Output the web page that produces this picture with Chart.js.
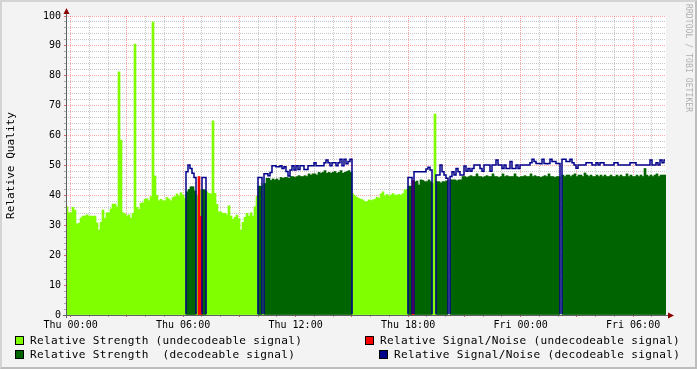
<!DOCTYPE html>
<html><head><meta charset="utf-8">
<script src="https://cdn.jsdelivr.net/npm/chart.js@4.4.1/dist/chart.umd.min.js"></script>
<style>
html,body{margin:0;padding:0;background:#F3F3F3;}
#wrap{position:relative;width:697px;height:369px;background:#F3F3F3;overflow:hidden;font-family:"DejaVu Sans Mono",monospace;}
#c{position:absolute;left:0;top:0;width:697px;height:369px;}
.frame{position:absolute;left:0;top:0;width:697px;height:369px;box-sizing:border-box;border-style:solid;border-width:2px;border-color:#D4D4D4 #BDBDBD #BDBDBD #D4D4D4;pointer-events:none;}
.sw{position:absolute;width:9px;height:9px;box-sizing:border-box;border:1px solid #000;}
.lt{position:absolute;font-size:11.1px;line-height:12px;letter-spacing:0.3px;white-space:pre;color:#000;}
.wm{position:absolute;left:684px;top:4px;writing-mode:vertical-rl;font-size:8px;letter-spacing:0.1px;color:#AFAFAF;white-space:pre;}
</style></head>
<body>
<div id="wrap">
<canvas id="c" width="697" height="369"></canvas>
<div class="sw" style="left:15px;top:336px;background:#7FFF00"></div>
<div class="lt" style="left:30px;top:335px">Relative Strength (undecodeable signal)</div>
<div class="sw" style="left:15px;top:350px;background:#006400"></div>
<div class="lt" style="left:30px;top:349px">Relative Strength  (decodeable signal)</div>
<div class="sw" style="left:365px;top:336px;background:#FF0000"></div>
<div class="lt" style="left:380px;top:335px">Relative Signal/Noise (undecodeable signal)</div>
<div class="sw" style="left:379px;top:350px;background:#00008B"></div>
<div class="lt" style="left:394px;top:349px">Relative Signal/Noise (decodeable signal)</div>
<div class="wm">RRDTOOL / TOBI OETIKER</div>
<div class="frame"></div>
</div>
<script>
const _ = null;
// time axis: one sample every 6.4 minutes, first sample starting 14.7 min before Thu 00:00
const START_MIN = -14.7;
const STEP_MIN = 6.4;
const tickLabels = ['Thu 00:00','Thu 06:00','Thu 12:00','Thu 18:00','Fri 00:00','Fri 06:00'];
const yLabels = [0,10,20,30,40,50,60,70,80,90,100];

// relative strength per sample
const strength = [
36.2,34.2,34.2,36.0,35.1,30.5,30.7,32.5,33.1,33.1,
33.5,33.1,33.1,33.0,33.1,30.8,28.4,31.0,35.1,32.3,
34.2,34.2,35.5,37.1,37.1,36.2,81.3,58.5,34.2,33.8,
33.1,33.5,32.4,34.0,90.6,36.0,35.3,37.4,37.5,38.7,
38.9,38.2,39.6,98.0,46.5,40.0,38.2,38.7,38.2,38.2,
39.3,38.8,38.2,39.3,39.6,40.5,39.8,40.9,40.1,39.0,
41.2,42.0,42.9,42.9,41.5,40.1,40.0,41.8,42.0,41.8,
41.2,40.7,40.5,64.9,40.7,37.0,34.5,34.5,34.0,34.0,
33.5,36.5,33.1,32.0,32.7,33.4,32.2,28.4,31.0,32.7,
34.0,33.1,34.2,33.1,36.2,39.6,43.1,43.1,44.0,44.0,
45.7,45.7,45.0,45.5,45.2,45.5,45.0,46.0,45.7,46.0,
46.0,45.7,46.3,46.3,46.0,46.3,46.6,46.3,46.3,46.6,
46.3,47.2,46.8,47.2,47.2,46.8,47.7,47.4,47.7,48.3,
47.4,47.7,47.4,47.7,48.0,47.4,47.7,48.3,47.4,47.7,
48.0,48.3,47.7,40.5,39.8,39.4,39.0,38.7,38.5,37.9,
37.9,38.5,38.2,38.5,38.7,39.4,39.0,40.5,41.2,39.8,
40.3,39.8,40.1,40.6,40.1,40.1,40.3,40.1,40.6,41.8,
42.0,43.1,43.1,42.0,44.5,44.8,43.5,45.2,45.0,44.6,
44.6,45.2,44.6,44.0,67.2,44.6,44.6,44.2,44.6,44.6,
44.9,_,45.2,45.2,45.2,44.9,45.2,45.2,46.3,46.3,
46.0,46.3,46.6,46.3,46.3,47.2,46.3,46.3,46.0,46.3,
46.6,46.3,46.3,47.2,46.3,46.3,46.0,46.3,47.2,46.3,
46.6,46.3,46.3,46.3,47.2,46.3,46.0,46.3,46.3,46.6,
46.3,46.3,47.2,46.3,46.6,46.3,46.3,46.0,46.3,46.6,
46.3,47.2,46.3,46.3,46.0,46.3,46.3,_,46.8,46.3,
46.8,46.8,46.3,46.8,47.2,46.3,46.8,46.8,46.3,47.5,
46.8,46.3,46.8,46.3,46.3,46.8,46.3,46.8,46.3,46.8,
46.3,46.3,46.8,46.3,46.3,46.8,46.3,46.8,46.3,46.3,
47.2,46.3,46.8,46.3,46.3,46.8,46.3,46.8,46.3,49.0,
46.8,46.3,46.8,46.3,46.8,47.2,46.3,46.8,46.8,46.8
];

// 1 = signal decodeable, 0 = undecodeable
const decodeable = [
0,0,0,0,0,0,0,0,0,0, 0,0,0,0,0,0,0,0,0,0,
0,0,0,0,0,0,0,0,0,0, 0,0,0,0,0,0,0,0,0,0,
0,0,0,0,0,0,0,0,0,0, 0,0,0,0,0,0,0,0,0,0,
1,1,1,1,1,0,0,0,1,1, 0,0,0,0,0,0,0,0,0,0,
0,0,0,0,0,0,0,0,0,0, 0,0,0,0,0,0,1,1,0,1,
1,1,1,1,1,1,1,1,1,1, 1,1,1,1,1,1,1,1,1,1,
1,1,1,1,1,1,1,1,1,1, 1,1,1,1,1,1,1,1,1,1,
1,1,1,0,0,0,0,0,0,0, 0,0,0,0,0,0,0,0,0,0,
0,0,0,0,0,0,0,0,0,0, 0,1,1,0,1,1,1,1,1,1,
1,1,1,0,0,1,1,1,1,1, 1,0,1,1,1,1,1,1,1,1,
1,1,1,1,1,1,1,1,1,1, 1,1,1,1,1,1,1,1,1,1,
1,1,1,1,1,1,1,1,1,1, 1,1,1,1,1,1,1,1,1,1,
1,1,1,1,1,1,1,0,1,1, 1,1,1,1,1,1,1,1,1,1,
1,1,1,1,1,1,1,1,1,1, 1,1,1,1,1,1,1,1,1,1,
1,1,1,1,1,1,1,1,1,1, 1,1,1,1,1,1,1,1,1,1
];

// relative signal/noise per sample (null = unknown)
const snr = [
_,_,_,_,_,_,_,_,_,_, _,_,_,_,_,_,_,_,_,_,
_,_,_,_,_,_,_,_,_,_, _,_,_,_,_,_,_,_,_,_,
_,_,_,_,_,_,_,_,_,_, _,_,_,_,_,_,_,_,_,_,
47.9,50.2,49.0,47.4,46.0,_,46.3,33.0,46.0,46.0,
_,_,_,_,_,_,_,_,_,_, _,_,_,_,_,_,_,_,_,_,
_,_,_,_,_,_,46.0,46.0,_,47.2,
47.2,46.6,47.7,49.9,49.9,49.6,49.6,49.9,49.0,49.6,
48.0,46.5,48.5,49.9,48.5,49.9,48.7,49.9,49.9,48.7,
48.7,49.9,49.9,49.9,50.9,49.9,49.9,49.9,49.9,50.9,
51.8,50.9,49.9,50.9,50.9,49.9,50.9,52.1,49.9,52.1,
50.6,51.3,52.1,_,_,_,_,_,_,_,
_,_,_,_,_,_,_,_,_,_, _,_,_,_,_,_,_,_,_,_,
_,46.0,46.0,45.0,47.9,47.9,47.9,47.9,47.9,47.9,
48.8,49.4,48.5,_,_,46.8,46.8,50.2,47.9,46.8,
45.7,_,46.3,47.9,46.8,49.0,47.9,46.8,46.8,49.8,
48.1,49.0,48.1,49.0,50.2,50.2,50.2,49.0,48.1,50.2,
50.2,50.2,48.1,50.2,50.2,51.8,50.2,50.2,49.0,50.2,
49.0,49.0,51.3,49.0,49.0,50.2,49.0,50.2,50.2,50.2,
50.2,50.2,50.9,52.1,51.3,50.7,50.7,50.6,52.1,50.7,
50.6,50.7,52.1,51.3,51.3,50.7,50.7,_,52.1,52.1,
51.3,51.3,52.1,50.9,50.2,49.1,50.2,50.2,50.2,50.2,
50.9,50.9,50.9,50.2,50.2,50.9,50.2,50.9,50.9,50.2,
50.2,50.2,50.2,50.2,50.9,50.9,50.2,50.2,50.2,50.2,
50.2,50.2,50.9,50.9,50.9,50.2,50.2,50.2,50.2,50.2,
50.2,50.2,51.8,50.2,50.2,50.9,50.2,51.8,50.9,51.8
];

const N = strength.length;
const tHour = i => (START_MIN + STEP_MIN * (i + 0.5)) / 60;
const lightData = [], darkData = [], redData = [], blueData = [];
for (let i = 0; i < N; i++) {
  const x = tHour(i);
  const d = decodeable[i] === 1;
  lightData.push({x, y: d ? null : strength[i]});
  darkData.push({x, y: d ? strength[i] : null});
  redData.push({x, y: (!d && snr[i] !== null) ? snr[i] : null});
  blueData.push({x, y: d ? snr[i] : 0});
}
const X_MIN = START_MIN / 60;
const X_MAX = (START_MIN + STEP_MIN * N) / 60;
const hourTicks = [];
for (let h = Math.ceil(X_MIN); h <= X_MAX; h++) hourTicks.push(h);
const yTicks = [];
for (let v = 0; v <= 100; v += 2) yTicks.push(v);

const MAJOR = 'rgba(255,0,0,0.35)';
const MINOR = 'rgba(130,130,130,0.45)';
const FONT = 'DejaVu Sans Mono';

const plotBg = {
  id: 'plotBg',
  beforeDraw(chart) {
    const {ctx, chartArea: a} = chart;
    ctx.save(); ctx.fillStyle = '#FFFFFF';
    ctx.fillRect(a.left, a.top, a.right - a.left, a.bottom - a.top);
    ctx.restore();
  }
};
const axesPlugin = {
  id: 'axesPlugin',
  afterDraw(chart) {
    const {ctx, chartArea: a} = chart;
    ctx.save();
    ctx.strokeStyle = '#606060'; ctx.lineWidth = 1;
    ctx.beginPath();
    ctx.moveTo(a.left + 0.5, a.bottom + 3); ctx.lineTo(a.left + 0.5, a.top - 4);
    ctx.moveTo(a.left - 3, a.bottom + 0.5); ctx.lineTo(a.right + 3, a.bottom + 0.5);
    ctx.stroke();
    ctx.fillStyle = '#8B0000';
    ctx.beginPath();
    ctx.moveTo(a.left + 0.5 - 3, a.top - 2); ctx.lineTo(a.left + 0.5 + 3, a.top - 2); ctx.lineTo(a.left + 0.5, a.top - 8);
    ctx.closePath(); ctx.fill();
    ctx.beginPath();
    ctx.moveTo(a.right + 2, a.bottom + 0.5 - 3); ctx.lineTo(a.right + 2, a.bottom + 0.5 + 3); ctx.lineTo(a.right + 8, a.bottom + 0.5);
    ctx.closePath(); ctx.fill();
    ctx.restore();
  }
};

const barCommon = {type: 'bar', grouped: false, barPercentage: 1, categoryPercentage: 1, borderWidth: 0};
new Chart(document.getElementById('c'), {
  type: 'bar',
  data: {
    datasets: [
      {type: 'line', label: 'Relative Signal/Noise (decodeable signal)', data: blueData, borderColor: '#00008B',
       borderWidth: 1.5, stepped: 'middle', pointRadius: 0, fill: false, order: 0, clip: {left: 2, right: 2, top: 2, bottom: -1}},
      Object.assign({label: 'Relative Signal/Noise (undecodeable signal)', data: redData, backgroundColor: '#FF0000', order: 1}, barCommon),
      Object.assign({label: 'Relative Strength  (decodeable signal)', data: darkData, backgroundColor: '#006400', order: 2}, barCommon),
      Object.assign({label: 'Relative Strength (undecodeable signal)', data: lightData, backgroundColor: '#7FFF00', order: 3}, barCommon)
    ]
  },
  options: {
    responsive: false, devicePixelRatio: 1, animation: false, events: [],
    layout: {padding: {left: 0, right: 31, top: 16, bottom: 0}},
    plugins: {legend: {display: false}, tooltip: {enabled: false}},
    scales: {
      x: {
        type: 'linear', min: X_MIN, max: X_MAX, offset: false, z: 1,
        afterFit: s => { s.height = 54; },
        afterBuildTicks: s => { s.ticks = hourTicks.map(v => ({value: v})); },
        grid: {offset: false, lineWidth: 1, tickLength: 2,
          color: c => (c.tick && c.tick.value % 3 === 0) ? MAJOR : MINOR,
          tickColor: c => (c.tick && c.tick.value % 3 === 0) ? 'rgba(200,0,0,0.6)' : 'rgba(120,120,120,0.6)'},
        border: {display: false, dash: [1, 1]},
        ticks: {autoSkip: false, maxRotation: 0, minRotation: 0, padding: 2, color: '#000',
          font: {family: FONT, size: 10},
          callback: v => (v % 6 === 0 && v / 6 < tickLabels.length) ? tickLabels[v / 6] : ''}
      },
      y: {
        type: 'linear', min: 0, max: 100, z: 1,
        afterFit: s => { s.width = 66; },
        afterBuildTicks: s => { s.ticks = yTicks.map(v => ({value: v})); },
        grid: {lineWidth: 1, tickLength: 2,
          color: c => (c.tick && c.tick.value % 10 === 0) ? MAJOR : MINOR,
          tickColor: c => (c.tick && c.tick.value % 10 === 0) ? 'rgba(200,0,0,0.6)' : 'rgba(120,120,120,0.6)'},
        border: {display: false, dash: [1, 1]},
        ticks: {autoSkip: false, padding: 3, color: '#000', font: {family: FONT, size: 10},
          callback: v => yLabels.includes(v) ? String(v) : ''},
        title: {display: true, text: 'Relative Quality', color: '#000', font: {family: FONT, size: 11.1},
          padding: {top: 4, bottom: 0}}
      }
    }
  },
  plugins: [plotBg, axesPlugin]
});
</script>
</body></html>
